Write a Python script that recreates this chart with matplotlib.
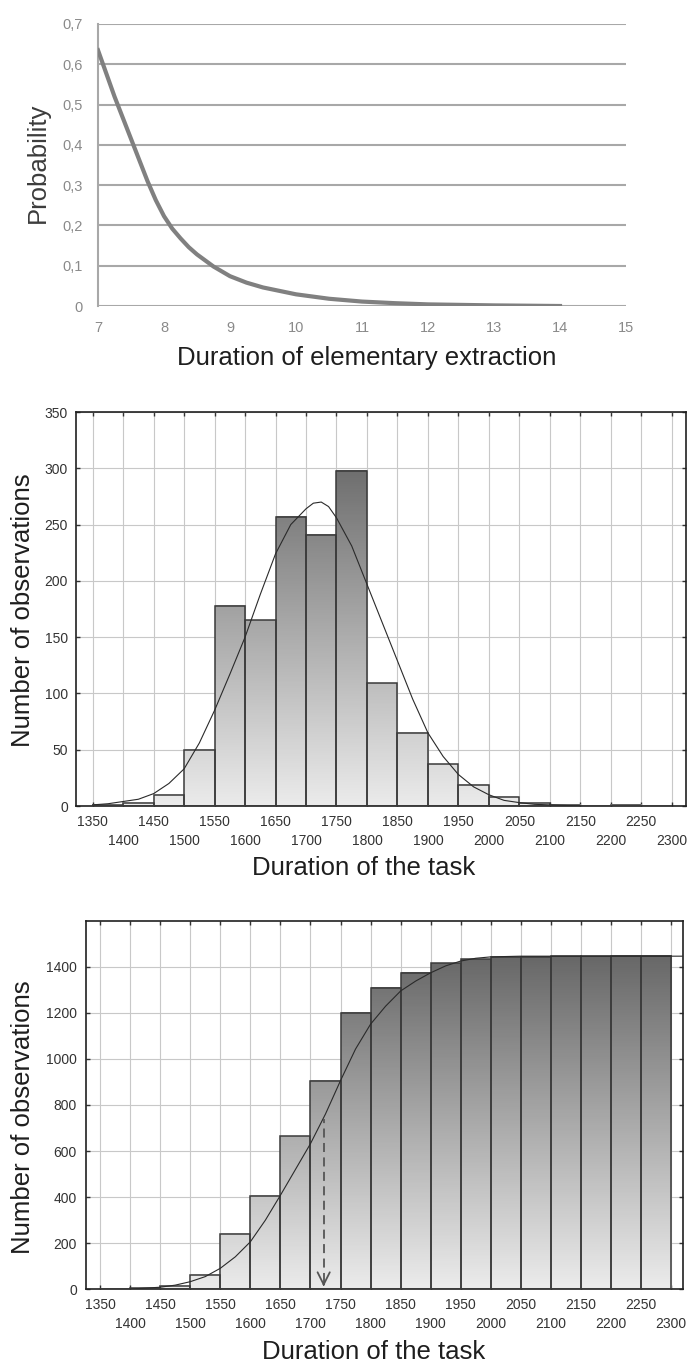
import numpy as np
import matplotlib
matplotlib.use("Agg")
import matplotlib.pyplot as plt
from matplotlib.colors import LinearSegmentedColormap

plt.rcParams['font.family'] = ['Liberation Sans', 'DejaVu Sans']

# --- panel 1: probability of elementary extraction duration ---
prob_x = [7.0, 7.25, 7.5, 7.75, 7.875, 8.0, 8.125, 8.25, 8.375, 8.5, 8.75, 9.0, 9.25, 9.5,
          10.0, 10.5, 11.0, 11.5, 12.0, 13.0, 14.0]
prob_y = [0.635, 0.52, 0.415, 0.31, 0.263, 0.223, 0.192, 0.168, 0.146, 0.128, 0.098, 0.074,
          0.058, 0.046, 0.029, 0.018, 0.011, 0.007, 0.004, 0.0015, 0.0]
prob_ticks = [0, 0.1, 0.2, 0.3, 0.4, 0.5, 0.6, 0.7]
prob_tick_labels = ['0', '0,1', '0,2', '0,3', '0,4', '0,5', '0,6', '0,7']
extr_ticks = [7, 8, 9, 10, 11, 12, 13, 14, 15]

# --- panel 2: histogram of task duration ---
bin_left = [1350, 1400, 1450, 1500, 1550, 1600, 1650, 1700, 1750, 1800,
            1850, 1900, 1950, 2000, 2050, 2100, 2150, 2200, 2250]
counts = [1, 3, 10, 50, 178, 165, 257, 241, 298, 109, 65, 37, 19, 8, 3, 1, 0, 1, 0]
fit_x = [1350, 1375, 1400, 1425, 1450, 1475, 1500, 1525, 1550, 1575, 1600, 1625, 1650, 1675,
         1700, 1712, 1725, 1737, 1750, 1775, 1800, 1825, 1850, 1875, 1900, 1925, 1950, 1975,
         2000, 2025, 2050, 2075, 2100, 2150]
fit_y = [1, 2, 4, 6, 11, 20, 33, 56, 85, 117, 150, 188, 224, 250, 264, 269, 270, 266, 256,
         231, 197, 163, 129, 95, 65, 44, 28, 17, 10, 5, 3, 1.5, 1, 0]

# --- panel 3: cumulative histogram ---
cum_counts = [1, 4, 14, 62, 242, 407, 664, 905, 1200, 1310, 1375, 1415, 1432, 1441,
              1444, 1445, 1445, 1446, 1446]
cdf_x = [1400, 1450, 1475, 1500, 1525, 1550, 1575, 1600, 1625, 1650, 1675, 1700, 1725, 1750,
         1775, 1800, 1825, 1850, 1875, 1900, 1925, 1950, 1975, 2000, 2050, 2320]
cdf_y = [1, 9, 18, 33, 55, 91, 141, 206, 300, 408, 520, 632, 761, 906, 1043, 1151, 1229,
         1295, 1338, 1374, 1404, 1425, 1437, 1443, 1446, 1446]
median_x = 1722
median_y = 741

top_row = [1350, 1450, 1550, 1650, 1750, 1850, 1950, 2050, 2150, 2250]
bottom_row = [1400, 1500, 1600, 1700, 1800, 1900, 2000, 2100, 2200, 2300]

W, H = 689, 1362


def box(l, t, r, b):
    return [l / W, 1 - b / H, (r - l) / W, (b - t) / H]


grad = LinearSegmentedColormap.from_list('grad', ['#ebebeb', '#5a5a5a'])


def gradient_bars(ax, lefts, heights, ytop):
    for x0, h in zip(lefts, heights):
        if h <= 0:
            continue
        ax.imshow(np.linspace(0, h, 128).reshape(-1, 1), cmap=grad, vmin=0, vmax=ytop,
                  extent=(x0, x0 + 50, 0, h), origin='lower', aspect='auto', zorder=2)
    ax.bar(lefts, heights, width=50, align='edge', fill=False,
           edgecolor='#3a3a3a', linewidth=1.1, zorder=3)


def style_task_axes(ax, xlim, ylim, yticks, ypad):
    ax.set_xlim(*xlim)
    ax.set_ylim(*ylim)
    ax.set_xticks(top_row, [str(v) for v in top_row])
    ax.set_xticks(bottom_row, [str(v) for v in bottom_row], minor=True)
    ax.set_yticks(yticks, [str(v) for v in yticks])
    ax.grid(True, which='both', color='#c8c8c8', linewidth=0.8)
    ax.set_axisbelow(True)
    ax.tick_params(axis='both', which='both', direction='in', length=3, width=1,
                   top=True, right=True, labelsize=10, labelcolor='#333333', color='#333333')
    ax.tick_params(axis='x', which='major', pad=6.5)
    ax.tick_params(axis='x', which='minor', pad=20)
    ax.tick_params(axis='y', pad=ypad)
    for s in ax.spines.values():
        s.set_color('#202020')
        s.set_linewidth(1.2)


fig = plt.figure(figsize=(W / 100, H / 100), dpi=100)

# panel 1
ax1 = fig.add_axes(box(98, 24, 626, 306))
ax1.plot(prob_x, prob_y, color='#808080', linewidth=3, solid_joinstyle='round', zorder=3)
ax1.set_xlim(7, 15)
ax1.set_ylim(0, 0.7)
ax1.set_xticks(extr_ticks, [str(v) for v in extr_ticks])
ax1.set_yticks(prob_ticks, prob_tick_labels)
ax1.yaxis.grid(True, color='#a8a8a8', linewidth=1.5)
ax1.tick_params(length=0, labelsize=10.5, labelcolor='#8a8a8a')
ax1.tick_params(axis='x', pad=10.5)
ax1.tick_params(axis='y', pad=11)
for side in ['top', 'right', 'bottom']:
    ax1.spines[side].set_visible(False)
ax1.spines['left'].set_color('#a8a8a8')
ax1.spines['left'].set_linewidth(1.5)
fig.text(367 / W, 1 - 358 / H, 'Duration of elementary extraction', fontsize=18.5,
         ha='center', va='center', color='#1e1e1e')
fig.text(38 / W, 1 - 163 / H, 'Probability', fontsize=18.5, rotation=90,
         ha='center', va='center', color='#3c3c3c')

# panel 2
ax2 = fig.add_axes(box(76, 412, 686, 806))
gradient_bars(ax2, bin_left, counts, 350)
ax2.plot(fit_x, fit_y, color='#2a2a2a', linewidth=0.8, zorder=4)
style_task_axes(ax2, (1322.6, 2323.5), (0, 350), list(range(0, 351, 50)), 5.8)
fig.text(364 / W, 1 - 868 / H, 'Duration of the task', fontsize=18.5,
         ha='center', va='center', color='#1e1e1e')
fig.text(23 / W, 1 - 610 / H, 'Number of observations', fontsize=18.5, rotation=90,
         ha='center', va='center', color='#1e1e1e')

# panel 3
ax3 = fig.add_axes(box(86, 920.7, 683, 1289.3))
gradient_bars(ax3, bin_left, cum_counts, 1600)
ax3.plot(cdf_x, cdf_y, color='#2a2a2a', linewidth=0.8, zorder=4)
ax3.vlines(median_x, 30, median_y, colors='#555555', linestyles=(0, (5, 3)), linewidth=1.3, zorder=5)
ax3.annotate('', xy=(median_x, 0), xytext=(median_x, 40),
             arrowprops=dict(arrowstyle='->', color='#555555', lw=1.3, mutation_scale=22),
             zorder=5)
style_task_axes(ax3, (1326.7, 2319.6), (0, 1600), list(range(0, 1401, 200)), 6.5)
fig.text(374 / W, 1 - 1352 / H, 'Duration of the task', fontsize=18.5,
         ha='center', va='center', color='#1e1e1e')
fig.text(23 / W, 1 - 1117 / H, 'Number of observations', fontsize=18.5, rotation=90,
         ha='center', va='center', color='#1e1e1e')

fig.savefig('out.png', dpi=100, facecolor='white')
